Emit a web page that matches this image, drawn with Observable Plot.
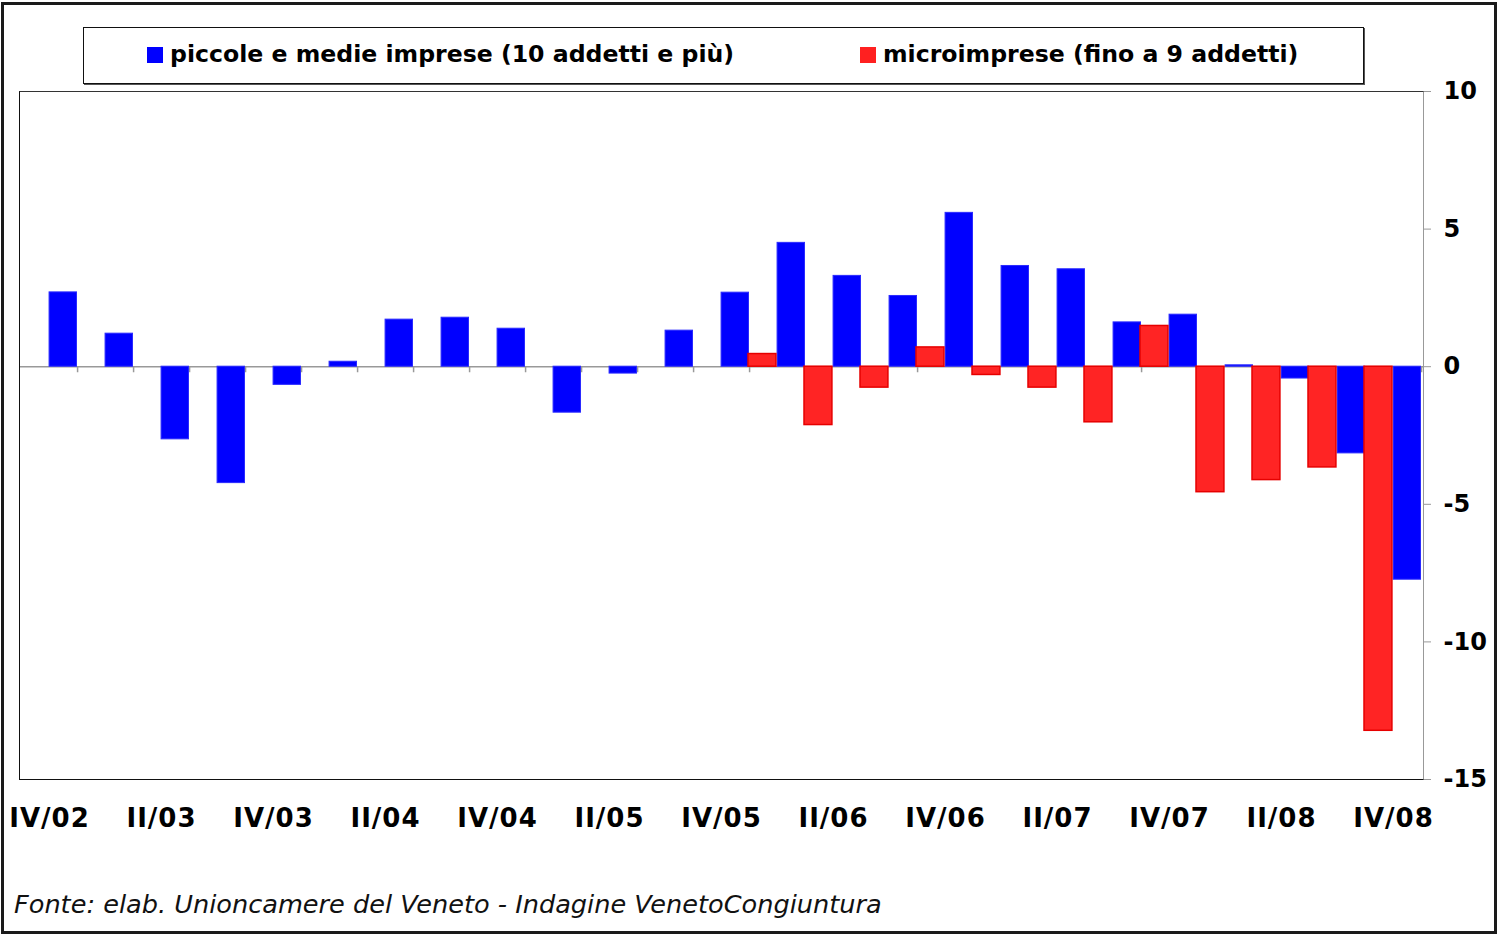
<!DOCTYPE html>
<html>
<head>
<meta charset="utf-8">
<script src="https://cdn.jsdelivr.net/npm/d3@7"></script>
<script src="https://cdn.jsdelivr.net/npm/@observablehq/plot@0.6"></script>
<style>
  html, body { margin: 0; padding: 0; background: #fff; overflow: hidden; }
  #wrap { position: relative; width: 1499px; height: 942px; background: #fff; }
  #chart { position: absolute; left: 0; top: 0; }
  .outer { position: absolute; left: 1px; top: 2px; width: 1496px; height: 932px; box-sizing: border-box; border: 3px solid #1a1a1a; pointer-events: none; }
  .legend { position: absolute; left: 83px; top: 27px; width: 1281px; height: 57px; box-sizing: border-box; border: 1.5px solid #111; box-shadow: 1px 1px 0 #555; }
  .sw { position: absolute; width: 16px; height: 16px; }
  .lt { position: absolute; font-family: "DejaVu Sans", sans-serif; font-weight: bold; font-size: 23.6px; color: #000; white-space: nowrap; line-height: 1; }
  .pframe { position: absolute; left: 19px; top: 91px; width: 1405px; height: 689px; box-sizing: border-box; border-left: 1.5px solid #111; border-top: 1.5px solid #333; border-bottom: 1.5px solid #111; border-right: 1px solid #999; pointer-events: none; }
  .foot { position: absolute; left: 14px; top: 892px; font-family: "DejaVu Sans", sans-serif; font-style: italic; font-size: 25.6px; color: #111; white-space: nowrap; line-height: 1; }
  g[aria-label="y-axis tick"] path { stroke: #999 !important; }
  g[aria-label="x-axis tick label"] text { letter-spacing: 1px; }
</style>
</head>
<body>
<div id="wrap">
  <div id="chart"></div>
  <div class="pframe"></div>
  <div class="legend"></div>
  <div class="sw" style="left:147px;top:47px;background:#0000ff;"></div>
  <div class="lt" id="l1" style="left:170px;top:43px;"></div>
  <div class="sw" style="left:860px;top:47px;background:#ff2020;"></div>
  <div class="lt" id="l2" style="left:883px;top:43px;"></div>
  <div class="foot" id="foot"></div>
  <div class="outer"></div>
</div>
<script>
const quarters = ["IV/02","I/03","II/03","III/03","IV/03","I/04","II/04","III/04","IV/04","I/05","II/05","III/05","IV/05","I/06","II/06","III/06","IV/06","I/07","II/07","III/07","IV/07","I/08","II/08","III/08","IV/08"];
const pmi = [2.7, 1.2, -2.64, -4.23, -0.66, 0.18, 1.71, 1.78, 1.38, -1.67, -0.25, 1.31, 2.69, 4.5, 3.3, 2.57, 5.59, 3.66, 3.54, 1.61, 1.89, 0.05, -0.43, -3.15, -7.74];
const micro = [null, null, null, null, null, null, null, null, null, null, null, null, null, 0.46, -2.12, -0.76, 0.7, -0.3, -0.76, -2.02, 1.48, -4.56, -4.12, -3.66, -13.23];
const seriesNames = ["piccole e medie imprese (10 addetti e più)", "microimprese (fino a 9 addetti)"];
const yTicks = [10, 5, 0, -5, -10, -15];
const labelTicks = quarters.filter((d, i) => i % 2 === 0);
const footnote = "Fonte: elab. Unioncamere del Veneto - Indagine VenetoCongiuntura";

document.getElementById("l1").textContent = seriesNames[0];
document.getElementById("l2").textContent = seriesNames[1];
document.getElementById("foot").textContent = footnote;

const W = 1499, H = 942, mL = 19, mR = 76, mT = 91, mB = 163;
const bw = (W - mL - mR) / quarters.length;

const blueData = quarters.map((q, i) => ({q, v: pmi[i]}));
const redData = quarters.map((q, i) => ({q, v: micro[i]})).filter(d => d.v != null);

const chart = Plot.plot({
  width: W, height: H,
  marginLeft: mL, marginRight: mR, marginTop: mT, marginBottom: mB,
  style: {fontFamily: "DejaVu Sans, sans-serif", background: "transparent", color: "#000"},
  x: {type: "band", domain: quarters, padding: 0, axis: null, label: null},
  y: {domain: [-15, 10], axis: null, label: null},
  marks: [
    Plot.ruleY([0], {stroke: "#999", strokeWidth: 1.5}),
    Plot.ruleX(quarters, {x: d => d, y1: 0, y2: -0.22, dx: bw / 2, stroke: "#999", strokeWidth: 1.5}),
    Plot.rectY(blueData, {x: "q", y1: 0, y2: "v", fill: "#0000ff", stroke: "#2a2aff", strokeWidth: 1, insetLeft: bw / 2, insetRight: 0.5}),
    Plot.rectY(redData, {x: "q", y1: 0, y2: "v", fill: "#ff2424", stroke: "#e60000", strokeWidth: 1.5, insetLeft: -1, insetRight: bw / 2 + 1}),
    Plot.axisY({anchor: "right", ticks: yTicks, tickSize: 7, tickPadding: 13, fontSize: 24, fontWeight: "bold", tickFormat: d => String(d), label: null}),
    Plot.axisX({ticks: labelTicks, tickSize: 0, tickPadding: 29, fontSize: 26, fontWeight: "bold", label: null})
  ]
});
document.getElementById("chart").appendChild(chart);
</script>
</body>
</html>
